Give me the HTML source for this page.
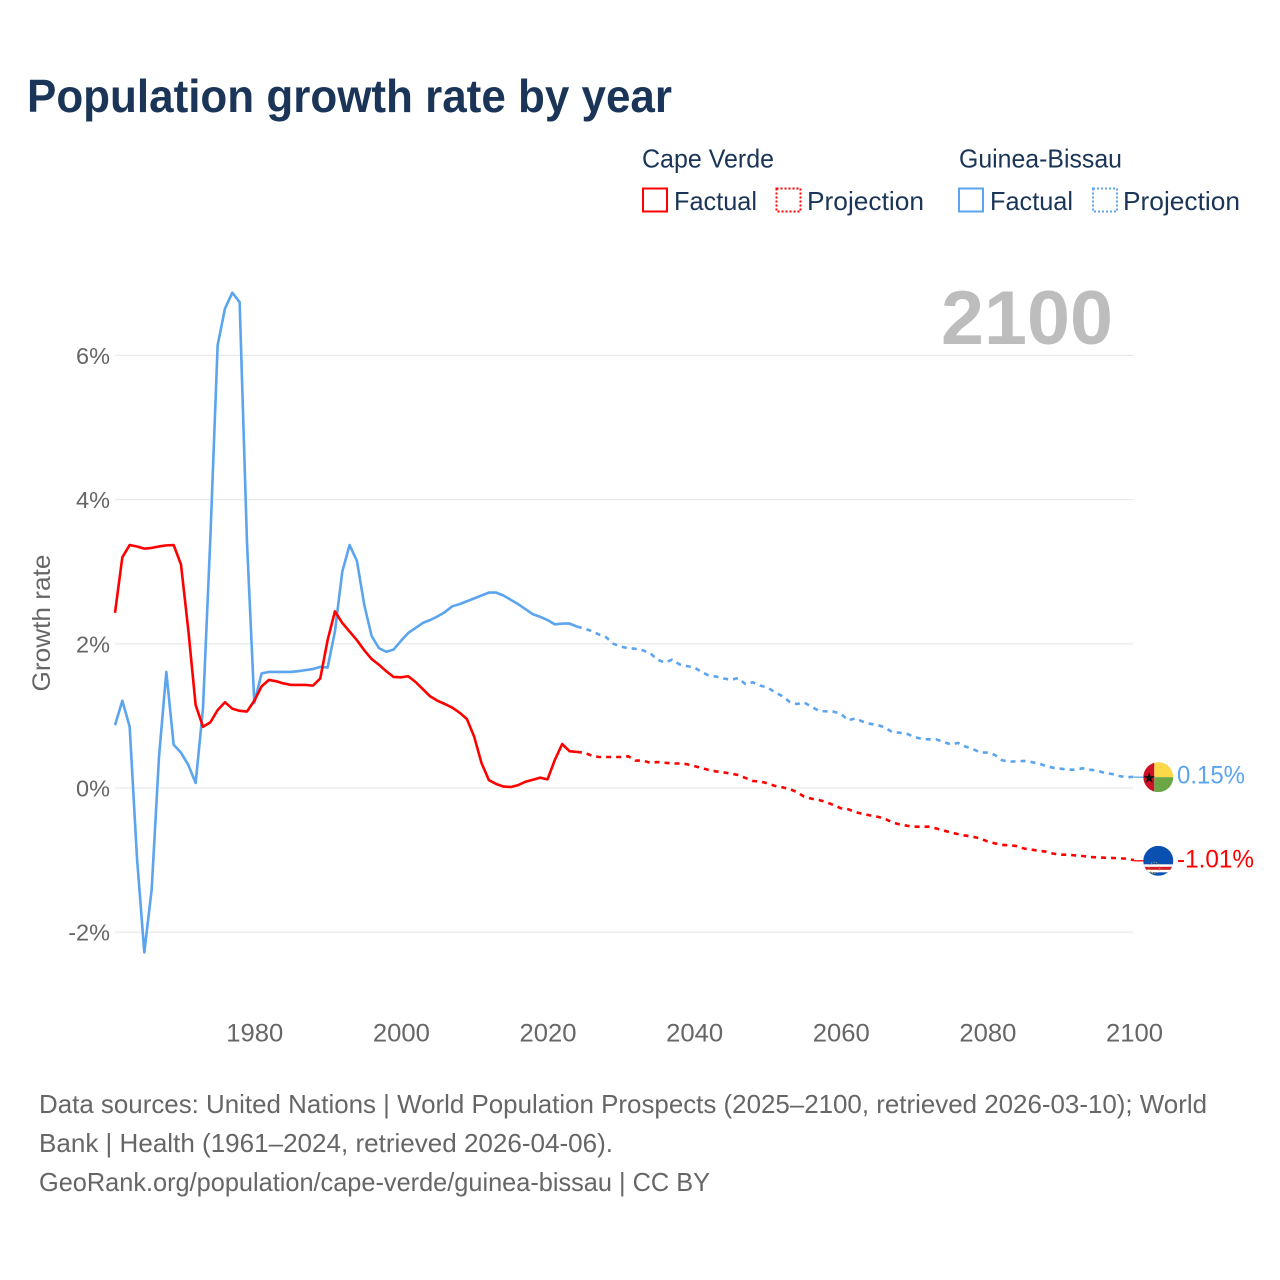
<!DOCTYPE html>
<html lang="en">
<head>
<meta charset="utf-8">
<title>Population growth rate by year</title>
<style>
html,body{margin:0;padding:0;background:#fff;}
svg{display:block;font-family:"Liberation Sans",sans-serif;}
</style>
</head>
<body>
<svg id="chart" width="1280" height="1280" viewBox="0 0 1280 1280" xmlns="http://www.w3.org/2000/svg">
  <rect width="1280" height="1280" fill="#fff"/>
  <text x="27" y="112" font-size="46" font-weight="700" fill="#1a3557" textLength="645" lengthAdjust="spacingAndGlyphs">Population growth rate by year</text>

  <g font-size="26" fill="#1a3557">
    <text x="642" y="167.5" textLength="132" lengthAdjust="spacingAndGlyphs">Cape Verde</text>
    <text x="959" y="167.5" textLength="163" lengthAdjust="spacingAndGlyphs">Guinea-Bissau</text>
    <rect x="643" y="188.5" width="24" height="23" fill="none" stroke="#ff0000" stroke-width="2"/>
    <text x="674" y="210" textLength="83" lengthAdjust="spacingAndGlyphs">Factual</text>
    <rect x="776.5" y="188.5" width="24" height="23" fill="none" stroke="#ff0000" stroke-width="2" stroke-dasharray="2 2"/>
    <text x="807" y="210" textLength="117" lengthAdjust="spacingAndGlyphs">Projection</text>
    <rect x="959" y="188.5" width="24" height="23" fill="none" stroke="#5ba4ee" stroke-width="2"/>
    <text x="990" y="210" textLength="83" lengthAdjust="spacingAndGlyphs">Factual</text>
    <rect x="1093" y="188.5" width="24" height="23" fill="none" stroke="#5ba4ee" stroke-width="2" stroke-dasharray="2 2"/>
    <text x="1123" y="210" textLength="117" lengthAdjust="spacingAndGlyphs">Projection</text>
  </g>

  <text x="941" y="344" font-size="76" font-weight="700" fill="#bdbdbd" textLength="172" lengthAdjust="spacingAndGlyphs">2100</text>
  <text transform="translate(50,623) rotate(-90)" text-anchor="middle" font-size="25" fill="#666" textLength="137" lengthAdjust="spacingAndGlyphs">Growth rate</text>

  <g id="grid"></g>
  <g id="yticks"></g>
  <g id="xticks"></g>
  <g id="series"></g>
  <g id="ends"></g>

  <defs>
    <clipPath id="flag-clip"><circle cx="0" cy="0" r="15"/></clipPath>
  </defs>

  <g font-size="26" fill="#666">
    <text x="39" y="1113" textLength="1168" lengthAdjust="spacingAndGlyphs">Data sources: United Nations | World Population Prospects (2025–2100, retrieved 2026-03-10); World</text>
    <text x="39" y="1152" textLength="574" lengthAdjust="spacingAndGlyphs">Bank | Health (1961–2024, retrieved 2026-04-06).</text>
    <text x="39" y="1191" textLength="671" lengthAdjust="spacingAndGlyphs">GeoRank.org/population/cape-verde/guinea-bissau | CC BY</text>
  </g>
</svg>

<script>
const factualStartYear = 1961;
const projectionStartYear = 2024;
const yTickValues = [6, 4, 2, 0, -2];
const yTickLabels = ["6%", "4%", "2%", "0%", "-2%"];
const xTickYears = [1980, 2000, 2020, 2040, 2060, 2080, 2100];
const capeVerdeFactual = [2.43,3.20,3.37,3.35,3.32,3.33,3.35,3.365,3.37,3.10,2.19,1.15,0.85,0.91,1.08,1.19,1.10,1.07,1.06,1.21,1.41,1.50,1.48,1.45,1.43,1.43,1.43,1.42,1.52,2.05,2.45,2.29,2.17,2.05,1.91,1.79,1.71,1.62,1.54,1.535,1.55,1.47,1.37,1.27,1.21,1.165,1.115,1.045,0.957,0.71,0.345,0.11,0.055,0.02,0.014,0.04,0.087,0.115,0.143,0.12,0.39,0.61,0.51,0.50];
const guineaBissauFactual = [0.87,1.21,0.85,-0.97,-2.28,-1.41,0.43,1.61,0.60,0.49,0.32,0.07,1.10,3.45,6.14,6.65,6.87,6.74,3.42,1.18,1.59,1.61,1.61,1.61,1.61,1.62,1.635,1.65,1.68,1.67,2.17,3.0,3.37,3.15,2.54,2.11,1.94,1.89,1.92,2.04,2.15,2.22,2.29,2.33,2.38,2.44,2.52,2.55,2.59,2.63,2.67,2.71,2.71,2.67,2.61,2.55,2.48,2.41,2.375,2.33,2.27,2.28,2.28,2.24];
const capeVerdeProjection = [0.50,0.49,0.45,0.43,0.43,0.43,0.43,0.44,0.38,0.38,0.35,0.36,0.35,0.34,0.34,0.33,0.305,0.277,0.25,0.23,0.217,0.20,0.18,0.139,0.097,0.09,0.065,0.03,0.01,-0.014,-0.055,-0.12,-0.148,-0.166,-0.194,-0.236,-0.28,-0.295,-0.333,-0.36,-0.38,-0.398,-0.425,-0.476,-0.504,-0.523,-0.537,-0.537,-0.537,-0.56,-0.59,-0.615,-0.64,-0.66,-0.675,-0.70,-0.74,-0.767,-0.79,-0.795,-0.805,-0.84,-0.855,-0.87,-0.883,-0.91,-0.925,-0.925,-0.935,-0.943,-0.957,-0.962,-0.967,-0.97,-0.975,-0.98,-1.00];
const guineaBissauProjection = [2.24,2.21,2.18,2.13,2.09,2.00,1.96,1.94,1.93,1.91,1.87,1.78,1.74,1.78,1.715,1.69,1.675,1.61,1.56,1.545,1.52,1.50,1.525,1.44,1.465,1.42,1.395,1.33,1.275,1.197,1.165,1.185,1.13,1.07,1.063,1.06,1.03,0.94,0.965,0.92,0.89,0.875,0.84,0.777,0.767,0.753,0.71,0.68,0.675,0.675,0.64,0.605,0.625,0.575,0.54,0.495,0.49,0.46,0.385,0.365,0.37,0.375,0.36,0.337,0.305,0.28,0.268,0.254,0.254,0.273,0.254,0.24,0.208,0.194,0.166,0.148,0.157];
const capeVerdeLatest = -1.01;
const guineaBissauLatest = 0.15;
const capeVerdeColor = "#ff0000";
const guineaBissauColor = "#5ba4ee";

const SVG_NS = "http://www.w3.org/2000/svg";
const plotLeft = 115, plotRight = 1133.5, labelRight = 110;
function xScale(year) { return 115 + (year - 1961) * (1134 - 115) / (2100 - 1961); }
function yScale(value) { return 788 - value * 72.1; }
function pathFor(values, startYear) {
  return values.map(function (v, i) {
    return (i ? "L" : "M") + xScale(startYear + i).toFixed(2) + " " + yScale(v).toFixed(2);
  }).join(" ");
}
function make(tag, parentId, attrs) {
  const el = document.createElementNS(SVG_NS, tag);
  Object.keys(attrs).forEach(function (k) { el.setAttribute(k, attrs[k]); });
  document.getElementById(parentId).appendChild(el);
  return el;
}

yTickValues.forEach(function (v, i) {
  const line = make("line", "grid", { x1: plotLeft, x2: plotRight, y1: yScale(v), y2: yScale(v), stroke: "#e9e9e9", "stroke-width": 1.2 });
  
  
  const label = make("text", "yticks", { x: labelRight, y: yScale(v) + 8.5, "text-anchor": "end", "font-size": 23.5, fill: "#666" });
  
  
  label.textContent = yTickLabels[i];
});

xTickYears.forEach(function (year) {
  const label = make("text", "xticks", { x: xScale(year) + 0.5, y: 1041.5, "text-anchor": "middle", "font-size": 25, fill: "#666", textLength: 57, lengthAdjust: "spacingAndGlyphs" });
  
  
  label.textContent = String(year);
});

function drawLine(values, startYear, color, dashed, name) {
  const p = make("path", "series", { d: pathFor(values, startYear), fill: "none", stroke: color, "stroke-width": 2.6, "stroke-linejoin": "round" });
  if (dashed) p.setAttribute("stroke-dasharray", "5 5");
  
  
}
drawLine(guineaBissauFactual, factualStartYear, guineaBissauColor, false, 'guinea-bissau-factual-line');
drawLine(guineaBissauProjection, projectionStartYear, guineaBissauColor, true, 'guinea-bissau-projection-line');
drawLine(capeVerdeFactual, factualStartYear, capeVerdeColor, false, 'cape-verde-factual-line');
drawLine(capeVerdeProjection, projectionStartYear, capeVerdeColor, true, 'cape-verde-projection-line');

function drawEnd(value, color, lastX, name, text, textLen, flagDraw) {
  const y = yScale(value);
  const conn = make("line", "ends", { x1: lastX, x2: 1144, y1: y, y2: y, stroke: color, "stroke-width": 1.3 });
  
  
  const g = make("g", "ends", { transform: "translate(1158.3," + y + ")", "clip-path": "url(#flag-clip)" });
  
  
  flagDraw(g);
  const t = make("text", "ends", { x: 1177, y: y + 6.5, "font-size": 25, fill: color, textLength: textLen, lengthAdjust: "spacingAndGlyphs" });
  
  
  t.textContent = text;
}
function flagPart(g, tag, attrs) {
  const el = document.createElementNS(SVG_NS, tag);
  Object.keys(attrs).forEach(function (k) { el.setAttribute(k, attrs[k]); });
  g.appendChild(el);
}
drawEnd(guineaBissauLatest, guineaBissauColor, 1134, 'guinea-bissau', "0.15%", 68, function (g) {
  flagPart(g, "rect", { x: -15, y: -15, width: 11, height: 30, fill: "#ce1126" });
  flagPart(g, "rect", { x: -4, y: -15, width: 19, height: 15, fill: "#ffd84a" });
  flagPart(g, "rect", { x: -4, y: 0, width: 19, height: 15, fill: "#6ca644" });
  flagPart(g, "polygon", { points: "-9,-5 -7.6,-1 -3.5,-1 -6.8,1.6 -5.6,5.6 -9,3.2 -12.4,5.6 -11.2,1.6 -14.5,-1 -10.4,-1", fill: "#111" });
});
drawEnd(capeVerdeLatest, capeVerdeColor, 1134, 'cape-verde', "-1.01%", 77, function (g) {
  flagPart(g, "rect", { x: -15, y: -15, width: 30, height: 30, fill: "#0a50b0" });
  flagPart(g, "rect", { x: -15, y: 3.5, width: 30, height: 8, fill: "#ffffff" });
  flagPart(g, "rect", { x: -15, y: 6, width: 30, height: 3, fill: "#cf2027" });
  flagPart(g, "circle", { cx: -4, cy: 7, r: 5.5, fill: "none", stroke: "#e8c84a", "stroke-width": 0.9, "stroke-dasharray": "1 1.5" });
});
</script>
</body>
</html>
